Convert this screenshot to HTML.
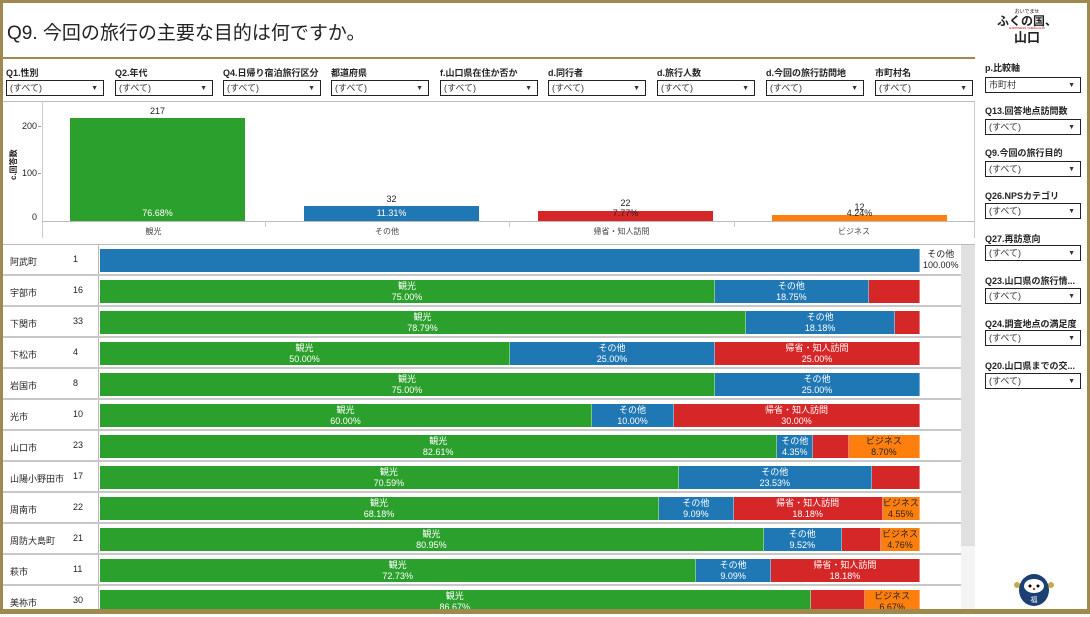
<!DOCTYPE html>
<html><head><meta charset="utf-8"><style>
*{margin:0;padding:0;box-sizing:border-box}
body{width:1090px;height:614px;overflow:hidden;background:#fff;font-family:"Liberation Sans","Noto Sans CJK JP",sans-serif;position:relative;color:#222}
.a{position:absolute}
.frame{position:absolute;left:0;top:0;width:1090px;height:614px;border:3px solid #9e8a4f;border-bottom-width:5px;pointer-events:none}
.lbl{position:absolute;font-size:9px;font-weight:bold;color:#222;white-space:nowrap}
.dd{position:absolute;height:16px;border:1px solid #222;font-size:9px;line-height:14px;padding-left:3px;color:#333;background:#fff}
.dd:after{content:"▼";position:absolute;right:5px;top:1px;font-size:7px}
.row{position:absolute;left:3px;width:958px;height:31px;border-bottom:2px solid #c8c8c8}
.nm{position:absolute;left:7px;font-size:9px;top:10px;white-space:nowrap}
.ct{position:absolute;left:70px;font-size:9px;top:9px}
.bar{position:absolute;left:97px;top:4px;height:23px;width:820px;display:flex}
.bar div{height:100%;color:#fff;font-size:9px;text-align:center;line-height:11px;padding-top:1px;overflow:hidden;white-space:nowrap;border-right:1px solid rgba(255,255,255,.4)}
.g{background:#2ca02c}.b{background:#1f77b4}.r{background:#d62728}.o{background:#ff7f0e;color:#222!important}
</style></head><body>
<div class="a" style="left:7px;top:18px;font-size:19px;color:#222;white-space:nowrap">Q9. 今回の旅行の主要な目的は何ですか。</div>
<div class="a" style="left:3px;top:57px;width:972px;height:2px;background:#9e8a4f"></div>

<div class="lbl" style="left:6px;top:66px">Q1.性別</div><div class="dd" style="left:6px;top:80px;width:98px">(すべて)</div>
<div class="lbl" style="left:115px;top:66px">Q2.年代</div><div class="dd" style="left:115px;top:80px;width:98px">(すべて)</div>
<div class="lbl" style="left:223px;top:66px">Q4.日帰り宿泊旅行区分</div><div class="dd" style="left:223px;top:80px;width:98px">(すべて)</div>
<div class="lbl" style="left:331px;top:66px">都道府県</div><div class="dd" style="left:331px;top:80px;width:98px">(すべて)</div>
<div class="lbl" style="left:440px;top:66px">f.山口県在住か否か</div><div class="dd" style="left:440px;top:80px;width:98px">(すべて)</div>
<div class="lbl" style="left:548px;top:66px">d.同行者</div><div class="dd" style="left:548px;top:80px;width:98px">(すべて)</div>
<div class="lbl" style="left:657px;top:66px">d.旅行人数</div><div class="dd" style="left:657px;top:80px;width:98px">(すべて)</div>
<div class="lbl" style="left:766px;top:66px">d.今回の旅行訪問地</div><div class="dd" style="left:766px;top:80px;width:98px">(すべて)</div>
<div class="lbl" style="left:875px;top:66px">市町村名</div><div class="dd" style="left:875px;top:80px;width:98px">(すべて)</div>

<div class="a" style="left:3px;top:101px;width:972px;height:1px;background:#bbb"></div>
<div class="a" style="left:974px;top:101px;width:1px;height:137px;background:#ccc"></div>
<div class="a" style="left:42px;top:101px;width:1px;height:137px;background:#ccc"></div>
<div class="a" style="left:42px;top:221px;width:932px;height:1px;background:#bbb"></div>
<div class="a" style="left:265px;top:221px;width:1px;height:6px;background:#ccc"></div>
<div class="a" style="left:509px;top:221px;width:1px;height:6px;background:#ccc"></div>
<div class="a" style="left:734px;top:221px;width:1px;height:6px;background:#ccc"></div>
<div class="a" style="left:22px;top:121px;font-size:9px">200</div>
<div class="a" style="left:22px;top:168px;font-size:9px">100</div>
<div class="a" style="left:32px;top:212px;font-size:9px">0</div>
<div class="a" style="left:38px;top:126px;width:3px;height:1px;background:#999"></div>
<div class="a" style="left:38px;top:173px;width:3px;height:1px;background:#999"></div>
<div class="a" style="left:8px;font-size:8px;font-weight:bold;transform:rotate(-90deg);transform-origin:left top;top:180px;white-space:nowrap">c.回答数</div>
<div class="a" style="left:70px;top:118px;width:175px;height:103px;background:#2ca02c"></div>
<div class="a" style="left:70px;top:208px;width:175px;text-align:center;font-size:9px;color:#fff">76.68%</div>
<div class="a" style="left:70px;top:106px;width:175px;text-align:center;font-size:9px">217</div>
<div class="a" style="left:304px;top:206px;width:175px;height:15px;background:#1f77b4"></div>
<div class="a" style="left:304px;top:208px;width:175px;text-align:center;font-size:9px;color:#fff">11.31%</div>
<div class="a" style="left:304px;top:194px;width:175px;text-align:center;font-size:9px">32</div>
<div class="a" style="left:538px;top:211px;width:175px;height:10px;background:#d62728"></div>
<div class="a" style="left:538px;top:208px;width:175px;text-align:center;font-size:9px">7.77%</div>
<div class="a" style="left:538px;top:198px;width:175px;text-align:center;font-size:9px">22</div>
<div class="a" style="left:772px;top:215px;width:175px;height:6px;background:#ff7f0e"></div>
<div class="a" style="left:772px;top:208px;width:175px;text-align:center;font-size:9px">4.24%</div>
<div class="a" style="left:772px;top:202px;width:175px;text-align:center;font-size:9px">12</div>
<div class="a" style="left:42px;top:226px;width:223px;text-align:center;font-size:8px;color:#444">観光</div>
<div class="a" style="left:265px;top:226px;width:244px;text-align:center;font-size:8px;color:#444">その他</div>
<div class="a" style="left:509px;top:226px;width:225px;text-align:center;font-size:8px;color:#444">帰省・知人訪問</div>
<div class="a" style="left:734px;top:226px;width:240px;text-align:center;font-size:8px;color:#444">ビジネス</div>

<div class="a" style="left:3px;top:244px;width:972px;height:1px;background:#bbb"></div>
<div class="a" style="left:961px;top:245px;width:14px;height:301px;background:#e0e0e0"></div>
<div class="a" style="left:961px;top:546px;width:14px;height:64px;background:#f4f4f4"></div>
<div class="a" style="left:98px;top:245px;width:1px;height:365px;background:#bbb"></div>

<div class="row" style="top:245px"><span class="nm">阿武町</span><span class="ct">1</span><div class="bar"><div class="b" style="width:100%"></div></div><div class="a" style="left:920px;top:4px;font-size:9px;text-align:center;line-height:11px">その他<br>100.00%</div></div>
<div class="row" style="top:276px"><span class="nm">宇部市</span><span class="ct">16</span><div class="bar"><div class="g" style="width:75%">観光<br>75.00%</div><div class="b" style="width:18.75%">その他<br>18.75%</div><div class="r" style="width:6.25%"></div></div></div>
<div class="row" style="top:307px"><span class="nm">下関市</span><span class="ct">33</span><div class="bar"><div class="g" style="width:78.79%">観光<br>78.79%</div><div class="b" style="width:18.18%">その他<br>18.18%</div><div class="r" style="width:3.03%"></div></div></div>
<div class="row" style="top:338px"><span class="nm">下松市</span><span class="ct">4</span><div class="bar"><div class="g" style="width:50%">観光<br>50.00%</div><div class="b" style="width:25%">その他<br>25.00%</div><div class="r" style="width:25%">帰省・知人訪問<br>25.00%</div></div></div>
<div class="row" style="top:369px"><span class="nm">岩国市</span><span class="ct">8</span><div class="bar"><div class="g" style="width:75%">観光<br>75.00%</div><div class="b" style="width:25%">その他<br>25.00%</div></div></div>
<div class="row" style="top:400px"><span class="nm">光市</span><span class="ct">10</span><div class="bar"><div class="g" style="width:60%">観光<br>60.00%</div><div class="b" style="width:10%">その他<br>10.00%</div><div class="r" style="width:30%">帰省・知人訪問<br>30.00%</div></div></div>
<div class="row" style="top:431px"><span class="nm">山口市</span><span class="ct">23</span><div class="bar"><div class="g" style="width:82.61%">観光<br>82.61%</div><div class="b" style="width:4.35%">その他<br>4.35%</div><div class="r" style="width:4.35%"></div><div class="o" style="width:8.69%">ビジネス<br>8.70%</div></div></div>
<div class="row" style="top:462px"><span class="nm">山陽小野田市</span><span class="ct">17</span><div class="bar"><div class="g" style="width:70.59%">観光<br>70.59%</div><div class="b" style="width:23.53%">その他<br>23.53%</div><div class="r" style="width:5.88%"></div></div></div>
<div class="row" style="top:493px"><span class="nm">周南市</span><span class="ct">22</span><div class="bar"><div class="g" style="width:68.18%">観光<br>68.18%</div><div class="b" style="width:9.09%">その他<br>9.09%</div><div class="r" style="width:18.18%">帰省・知人訪問<br>18.18%</div><div class="o" style="width:4.55%">ビジネス<br>4.55%</div></div></div>
<div class="row" style="top:524px"><span class="nm">周防大島町</span><span class="ct">21</span><div class="bar"><div class="g" style="width:80.95%">観光<br>80.95%</div><div class="b" style="width:9.52%">その他<br>9.52%</div><div class="r" style="width:4.77%"></div><div class="o" style="width:4.76%">ビジネス<br>4.76%</div></div></div>
<div class="row" style="top:555px"><span class="nm">萩市</span><span class="ct">11</span><div class="bar"><div class="g" style="width:72.73%">観光<br>72.73%</div><div class="b" style="width:9.09%">その他<br>9.09%</div><div class="r" style="width:18.18%">帰省・知人訪問<br>18.18%</div></div></div>
<div class="row" style="top:586px;border:none"><span class="nm">美祢市</span><span class="ct">30</span><div class="bar"><div class="g" style="width:86.66%">観光<br>86.67%</div><div class="r" style="width:6.67%"></div><div class="o" style="width:6.67%">ビジネス<br>6.67%</div></div></div>

<div class="a" style="left:995px;top:10px;width:64px;text-align:center;line-height:1;white-space:nowrap">
<div style="font-size:5px">おいでませ</div>
<div style="font-size:12px;font-weight:bold">ふくの国、</div>
<div style="font-size:3px;color:#c00">HAPPINESS YAMAGUCHI</div>
<div style="font-size:13px;font-weight:bold;margin-top:1px">山口</div></div>
<div class="lbl" style="left:985px;top:61px">p.比較軸</div><div class="dd" style="left:985px;top:77px;width:96px">市町村</div>
<div class="lbl" style="left:985px;top:104px">Q13.回答地点訪問数</div><div class="dd" style="left:985px;top:119px;width:96px">(すべて)</div>
<div class="lbl" style="left:985px;top:146px">Q9.今回の旅行目的</div><div class="dd" style="left:985px;top:161px;width:96px">(すべて)</div>
<div class="lbl" style="left:985px;top:189px">Q26.NPSカテゴリ</div><div class="dd" style="left:985px;top:203px;width:96px">(すべて)</div>
<div class="lbl" style="left:985px;top:232px">Q27.再訪意向</div><div class="dd" style="left:985px;top:245px;width:96px">(すべて)</div>
<div class="lbl" style="left:985px;top:274px">Q23.山口県の旅行情...</div><div class="dd" style="left:985px;top:288px;width:96px">(すべて)</div>
<div class="lbl" style="left:985px;top:317px">Q24.調査地点の満足度</div><div class="dd" style="left:985px;top:330px;width:96px">(すべて)</div>
<div class="lbl" style="left:985px;top:359px">Q20.山口県までの交...</div><div class="dd" style="left:985px;top:373px;width:96px">(すべて)</div>
<svg class="a" style="left:1012px;top:573px" width="44" height="34"><circle cx="5" cy="12" r="3" fill="#c9a94a"/><circle cx="39" cy="12" r="3" fill="#c9a94a"/><ellipse cx="22" cy="17" rx="15" ry="16" fill="#1c3f74"/><ellipse cx="22" cy="13" rx="10" ry="7" fill="#fff"/><circle cx="18" cy="13" r="1.5" fill="#000"/><circle cx="26" cy="13" r="1.5" fill="#000"/><circle cx="22" cy="16" r="1.2" fill="#d22"/><text x="22" y="29" font-size="7" fill="#fff" text-anchor="middle" font-family="Noto Sans CJK JP">福</text></svg>
<div class="frame"></div>
</body></html>
